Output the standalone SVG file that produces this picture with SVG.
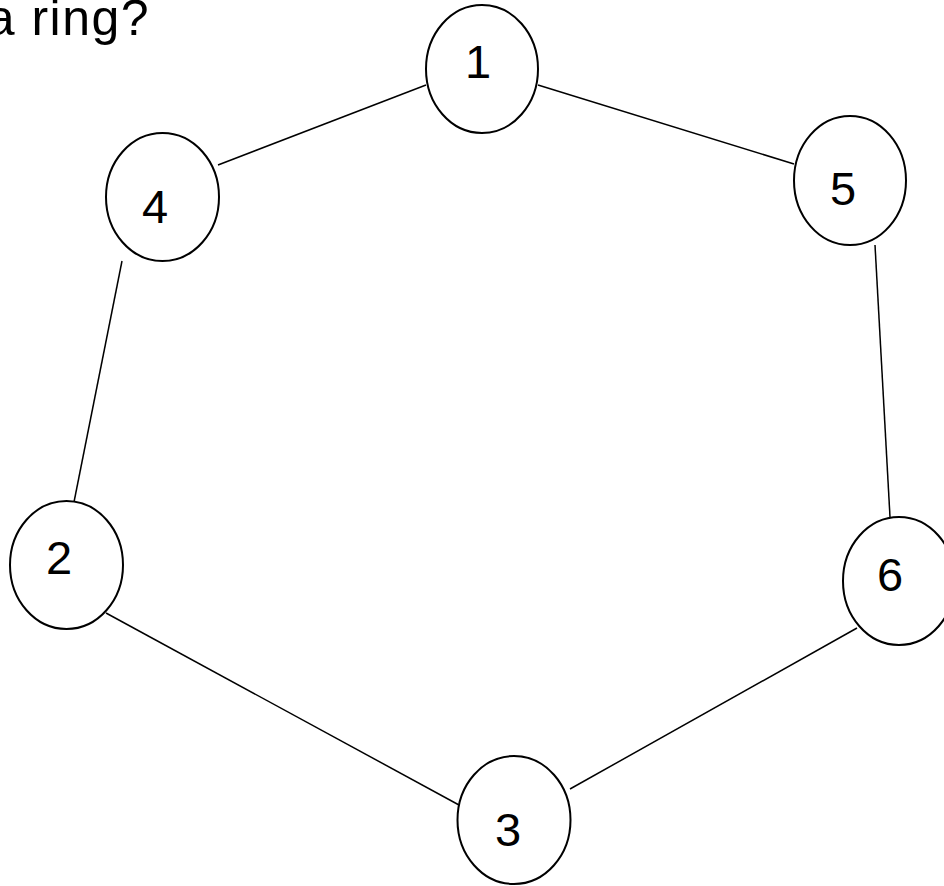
<svg xmlns="http://www.w3.org/2000/svg" width="944" height="886" viewBox="0 0 944 886">
<style>
.n ellipse{fill:#fff;stroke:#000;stroke-width:2}
.n text{font-family:"Liberation Sans",Arial,sans-serif;font-size:47px;fill:#000;text-anchor:middle}
#edges line{stroke:#000;stroke-width:1.5}
.t{font-family:"Liberation Sans",Arial,sans-serif;font-size:50px;letter-spacing:1.5px;fill:#000}
</style>
<rect width="944" height="886" fill="#fff"/>
<text class="t" x="-13.3" y="35">a ring?</text>
<g id="edges">
<line x1="426" y1="85" x2="218" y2="165"/>
<line x1="538" y1="85" x2="794" y2="164"/>
<line x1="875" y1="245" x2="890" y2="517"/>
<line x1="122" y1="261" x2="74" y2="502"/>
<line x1="106" y1="613" x2="459" y2="805"/>
<line x1="857" y1="628" x2="570" y2="789"/>
</g>
<g id="node1" class="n"><ellipse cx="482" cy="69" rx="56" ry="64"/><text x="478" y="78">1</text></g>
<g id="node4" class="n"><ellipse cx="162.5" cy="197" rx="56.5" ry="64"/><text x="155" y="223">4</text></g>
<g id="node5" class="n"><ellipse cx="850" cy="180.5" rx="56" ry="64.5"/><text x="843" y="205">5</text></g>
<g id="node2" class="n"><ellipse cx="66.5" cy="565" rx="56.5" ry="64"/><text x="59" y="574">2</text></g>
<g id="node6" class="n"><ellipse cx="899" cy="581" rx="56" ry="64"/><text x="890" y="591">6</text></g>
<g id="node3" class="n"><ellipse cx="514" cy="820" rx="56.5" ry="64"/><text x="508" y="846">3</text></g>
</svg>
